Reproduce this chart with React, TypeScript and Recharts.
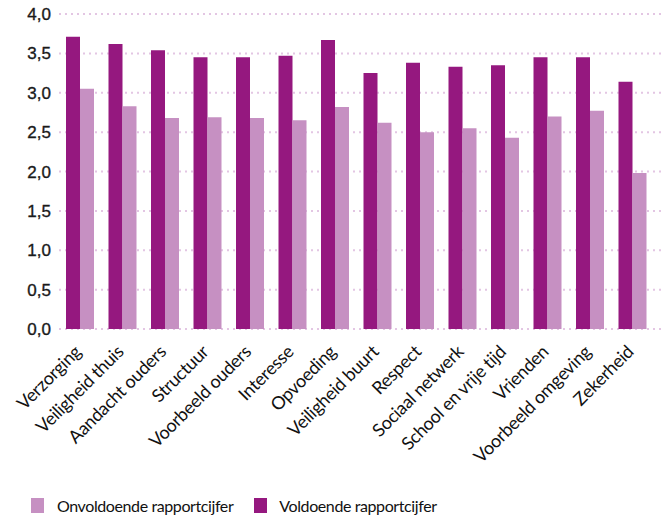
import { BarChart, Bar, XAxis, YAxis, CartesianGrid } from "recharts";

const categories = [
  "Verzorging",
  "Veiligheid thuis",
  "Aandacht ouders",
  "Structuur",
  "Voorbeeld ouders",
  "Interesse",
  "Opvoeding",
  "Veiligheid buurt",
  "Respect",
  "Sociaal netwerk",
  "School en vrije tijd",
  "Vrienden",
  "Voorbeeld omgeving",
  "Zekerheid",
];

const voldoende = [3.71, 3.62, 3.54, 3.45, 3.45, 3.47, 3.67, 3.25, 3.38, 3.33, 3.35, 3.45, 3.45, 3.14];
const onvoldoende = [3.05, 2.83, 2.68, 2.69, 2.68, 2.65, 2.82, 2.62, 2.5, 2.55, 2.43, 2.7, 2.77, 1.98];

const yTicks = [0, 0.5, 1, 1.5, 2, 2.5, 3, 3.5, 4];

const DARK = "#95187f";
const LIGHT = "#c690c2";

const data = categories.map((name, i) => ({
  name,
  voldoende: voldoende[i],
  onvoldoende: onvoldoende[i],
}));

function CategoryTick({ x, y, payload }: any) {
  const tx = x + 2;
  const ty = y + 16;
  return (
    <text
      x={tx}
      y={ty}
      transform={`rotate(-45, ${tx}, ${ty})`}
      textAnchor="end"
      fontFamily="Lato"
      fontSize={18}
      letterSpacing={-0.3}
      fill="#111"
    >
      {payload.value}
    </text>
  );
}

export default function App() {
  return (
    <div style={{ position: "absolute", left: 0, top: 0, width: 661, height: 519, background: "#fff" }}>
      <BarChart
        width={661}
        height={470}
        data={data}
        margin={{ top: 14, right: 0, bottom: 0, left: 0 }}
        barSize={14}
        barGap={0}
      >
        <CartesianGrid
          vertical={false}
          stroke="#e3c6e3"
          strokeWidth={2}
          strokeDasharray="2 4"
        />
        <XAxis
          dataKey="name"
          interval={0}
          height={141}
          axisLine={false}
          tickLine={false}
          tick={<CategoryTick />}
          padding={{ left: 0, right: 7 }}
        />
        <YAxis
          domain={[0, 4]}
          ticks={yTicks}
          width={59}
          axisLine={false}
          tickLine={false}
          tickMargin={2}
          tickFormatter={(v: number) => v.toFixed(1).replace(".", ",")}
          tick={{
            fontFamily: "Liberation Sans",
            fontSize: 17,
            fill: "#1a1a1a",
            stroke: "#1a1a1a",
            strokeWidth: 0.35,
          }}
        />
        <Bar dataKey="voldoende" name="Voldoende rapportcijfer" fill={DARK} isAnimationActive={false} />
        <Bar dataKey="onvoldoende" name="Onvoldoende rapportcijfer" fill={LIGHT} isAnimationActive={false} />
      </BarChart>
      <div
        style={{
          position: "absolute",
          left: 31,
          top: 496,
          display: "flex",
          alignItems: "center",
          fontFamily: "Lato",
          fontSize: 16,
          letterSpacing: -0.4,
          color: "#111",
        }}
      >
        <span style={{ display: "inline-block", width: 13, height: 15, background: LIGHT, marginRight: 13 }} />
        <span style={{ marginRight: 21 }}>Onvoldoende rapportcijfer</span>
        <span style={{ display: "inline-block", width: 13, height: 15, background: DARK, marginRight: 12 }} />
        <span>Voldoende rapportcijfer</span>
      </div>
    </div>
  );
}
